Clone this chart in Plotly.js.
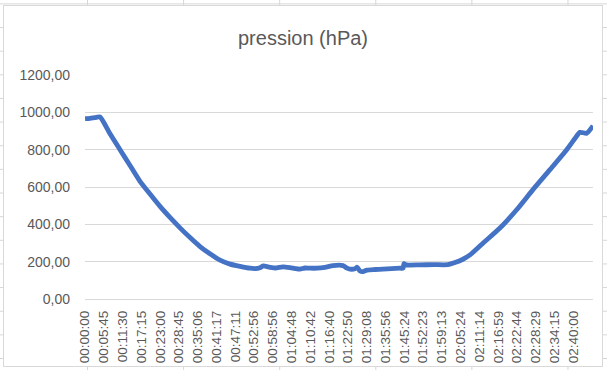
<!DOCTYPE html>
<html>
<head>
<meta charset="utf-8">
<script src="https://cdn.plot.ly/plotly-3.0.1.min.js"></script>
<style>
  html, body { margin:0; padding:0; width:607px; height:370px; overflow:hidden; }
  body {
    background-color:#ffffff;
    background-image:
      linear-gradient(to right, #d6d6d6 1px, transparent 1px),
      linear-gradient(to bottom, #d6d6d6 1px, transparent 1px);
    background-size: 96.1px 100%, 100% 23.65px;
    background-position: 87px 0, 0 3.4px;
  }
  #chart {
    position:absolute; left:3px; top:5px; width:600px; height:362px;
    box-sizing:border-box; border:1px solid #d9d9d9; background:#ffffff;
  }
</style>
</head>
<body>
<div id="chart"></div>
<script>
// Time labels shown on the category axis (one every 345 samples)
const timeLabels = ["00:00:00","00:05:45","00:11:30","00:17:15","00:23:00","00:28:45",
  "00:35:06","00:41:17","00:47:11","00:52:56","00:58:56","01:04:48","01:10:42",
  "01:16:40","01:22:50","01:29:08","01:35:56","01:45:24","01:52:23","01:59:13",
  "02:05:24","02:11:14","02:16:59","02:22:44","02:28:29","02:34:15","02:40:00"];
const labelStep = 345;
const sampleCount = 9333;

// Sample index (row number) and pressure
const sampleIdx = [0, 92, 184, 275, 459, 643, 827, 1010, 1194, 1378, 1561, 1745, 1929,
  2113, 2296, 2480, 2664, 2847, 3031, 3120, 3215, 3270, 3398, 3500, 3637, 3765, 3860,
  3949, 4040, 4133, 4262, 4409, 4556, 4740, 4813, 4868, 4960, 5000, 5052, 5107, 5180,
  5327, 5474, 5630, 5787, 5842, 5860, 5897, 6154, 6400, 6668, 6797, 6944, 7072, 7311,
  7623, 7930, 8229, 8542, 8849, 9001, 9093, 9216, 9332];
const pressure = [966, 968, 972, 975, 885, 800, 715, 630, 562, 496, 437, 381, 329,
  281, 242, 208, 187, 175, 165, 163, 168, 177, 170, 166, 172, 168, 163,
  160, 166, 165, 165, 170, 179, 179, 165, 160, 162, 170, 150, 147, 155,
  158, 160, 163, 165, 165, 190, 183, 183, 184, 184, 195, 213, 236, 299,
  380, 478, 586, 693, 800, 860, 893, 888, 928];

const tickVals = timeLabels.map((_, i) => i * labelStep);

const trace = {
  x: sampleIdx,
  y: pressure,
  type: 'scatter',
  mode: 'lines',
  line: { color: '#4472C4', width: 4.8, shape: 'spline', smoothing: 0.6 },
  hoverinfo: 'skip'
};

const layout = {
  width: 598, height: 360,
  margin: { l: 81, r: 9, t: 69, b: 67 },
  paper_bgcolor: '#ffffff',
  plot_bgcolor: '#ffffff',
  separators: ', ',
  font: { family: 'Liberation Sans, Arial, sans-serif', color: '#595959', size: 14 },
  title: {
    text: 'pression (hPa)',
    font: { size: 20, color: '#595959', family: 'Liberation Sans, Arial, sans-serif' },
    x: 0.5, xanchor: 'center',
    y: 1 - 32 / 360, yref: 'container', yanchor: 'middle'
  },
  showlegend: false,
  xaxis: {
    range: [-0.5, sampleCount - 0.5],
    tickmode: 'array',
    tickvals: tickVals,
    ticktext: timeLabels,
    tickangle: -90,
    showgrid: false,
    zeroline: false,
    showline: false,
    ticks: '',
    ticklabelstandoff: 8,
    tickfont: { size: 13.5, color: '#595959' },
    fixedrange: true
  },
  yaxis: {
    range: [0, 1200],
    dtick: 200,
    tick0: 0,
    tickformat: '.2f',
    showgrid: true,
    gridcolor: '#d9d9d9',
    gridwidth: 1,
    zeroline: true,
    zerolinecolor: '#d9d9d9',
    zerolinewidth: 1,
    showline: false,
    ticks: '',
    ticklabelstandoff: 14,
    tickfont: { size: 14, color: '#595959' },
    fixedrange: true
  }
};

Plotly.newPlot('chart', [trace], layout, { staticPlot: true, displayModeBar: false });
</script>
</body>
</html>
